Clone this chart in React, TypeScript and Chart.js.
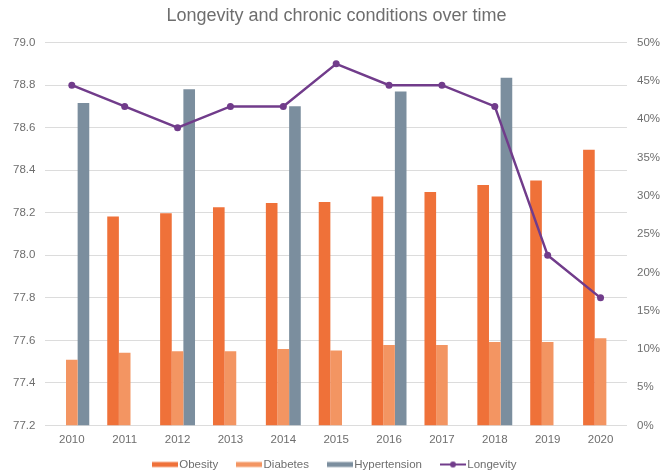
import React, { useEffect, useRef } from 'react';
import { Chart, registerables } from 'chart.js';
Chart.register(...registerables);

const years = ['2010', '2011', '2012', '2013', '2014', '2015', '2016', '2017', '2018', '2019', '2020'];
const obesity = [null, 27.3, 27.7, 28.5, 29.05, 29.2, 29.9, 30.5, 31.4, 32.0, 36.0];
const diabetes = [8.6, 9.5, 9.7, 9.7, 10.0, 9.8, 10.5, 10.5, 10.9, 10.9, 11.4];
const hypertension = [42.1, null, 43.9, null, 41.7, null, 43.6, null, 45.4, null, null];
const longevity = [78.8, 78.7, 78.6, 78.7, 78.7, 78.9, 78.8, 78.8, 78.7, 78.0, 77.8];

const seriesNames = ['Obesity', 'Diabetes', 'Hypertension', 'Longevity'];
const colors = ['#EF7139', '#F39562', '#7B8E9E', '#713C8B'];
const FONT = "'Liberation Sans', Arial, Helvetica, sans-serif";
const TEXT = '#6E6E6E';

function makeIcon(color: string, isLine: boolean): HTMLCanvasElement {
  const c = document.createElement('canvas');
  c.width = 26;
  c.height = 8;
  const ctx = c.getContext('2d')!;
  if (isLine) {
    ctx.strokeStyle = color;
    ctx.lineWidth = 2;
    ctx.beginPath();
    ctx.moveTo(0, 4);
    ctx.lineTo(26, 4);
    ctx.stroke();
    ctx.fillStyle = color;
    ctx.beginPath();
    ctx.arc(13, 4, 3, 0, Math.PI * 2);
    ctx.fill();
  } else {
    ctx.fillStyle = color;
    ctx.fillRect(0, 1.5, 26, 5);
  }
  return c;
}

export default function App() {
  const ref = useRef<HTMLCanvasElement>(null);
  useEffect(() => {
    const icons = colors.map((c, i) => makeIcon(c, i === 3));
    const chart = new Chart(ref.current!, {
      type: 'bar',
      data: {
        labels: years,
        datasets: [
          { type: 'bar', label: seriesNames[0], data: obesity, backgroundColor: colors[0], yAxisID: 'y1', order: 1 },
          { type: 'bar', label: seriesNames[1], data: diabetes, backgroundColor: colors[1], yAxisID: 'y1', order: 1 },
          { type: 'bar', label: seriesNames[2], data: hypertension, backgroundColor: colors[2], yAxisID: 'y1', order: 1 },
          {
            type: 'line', label: seriesNames[3], data: longevity, borderColor: colors[3], backgroundColor: colors[3],
            borderWidth: 2.5, pointRadius: 3.5, pointBackgroundColor: colors[3], pointBorderWidth: 0,
            yAxisID: 'y', order: 0, tension: 0,
          },
        ] as any,
      },
      options: {
        responsive: true,
        maintainAspectRatio: false,
        animation: false,
        layout: { padding: { left: 3, right: -9, top: 4, bottom: 0 } },
        datasets: { bar: { categoryPercentage: 0.66, barPercentage: 1.0 } } as any,
        plugins: {
          title: {
            display: true,
            text: 'Longevity and chronic conditions over time',
            color: TEXT,
            font: { family: FONT, size: 18, weight: 'normal' },
            padding: { top: 1, bottom: 16 },
          },
          legend: {
            position: 'bottom',
            maxHeight: 20.5,
            labels: {
              color: TEXT,
              font: { family: FONT, size: 11.5 },
              usePointStyle: true,
              pointStyleWidth: 17,
              padding: 4.25,
              generateLabels: () =>
                seriesNames.map((n, i) => ({
                  text: i < 3 ? n + '     \u2009' : n,
                  fillStyle: colors[i],
                  strokeStyle: colors[i],
                  lineWidth: 0,
                  pointStyle: icons[i],
                  hidden: false,
                  datasetIndex: i,
                  fontColor: TEXT,
                })) as any,
            },
          },
          tooltip: { enabled: false },
        },
        scales: {
          x: {
            grid: { display: false, drawTicks: false },
            border: { display: false },
            ticks: { color: TEXT, font: { family: FONT, size: 11.5 }, padding: 7.6 },
          },
          y: {
            position: 'left',
            min: 77.2,
            max: 79.0,
            grid: { color: '#DCDCDC', drawTicks: false },
            border: { display: false },
            ticks: {
              stepSize: 0.2,
              color: TEXT,
              font: { family: FONT, size: 11.5 },
              padding: 10,
              callback: (v: any) => Number(v).toFixed(1),
            },
          },
          y1: {
            position: 'right',
            min: 0,
            max: 50,
            grid: { display: false, drawTicks: false },
            border: { display: false },
            ticks: {
              stepSize: 5,
              color: TEXT,
              font: { family: FONT, size: 11.5 },
              padding: 10,
              callback: (v: any) => v + '%',
            },
          },
        },
      },
    });
    return () => chart.destroy();
  }, []);
  return (
    <div style={{ position: 'fixed', left: 0, top: 0, width: 661, height: 475, background: '#fff' }}>
      <canvas ref={ref} />
    </div>
  );
}
